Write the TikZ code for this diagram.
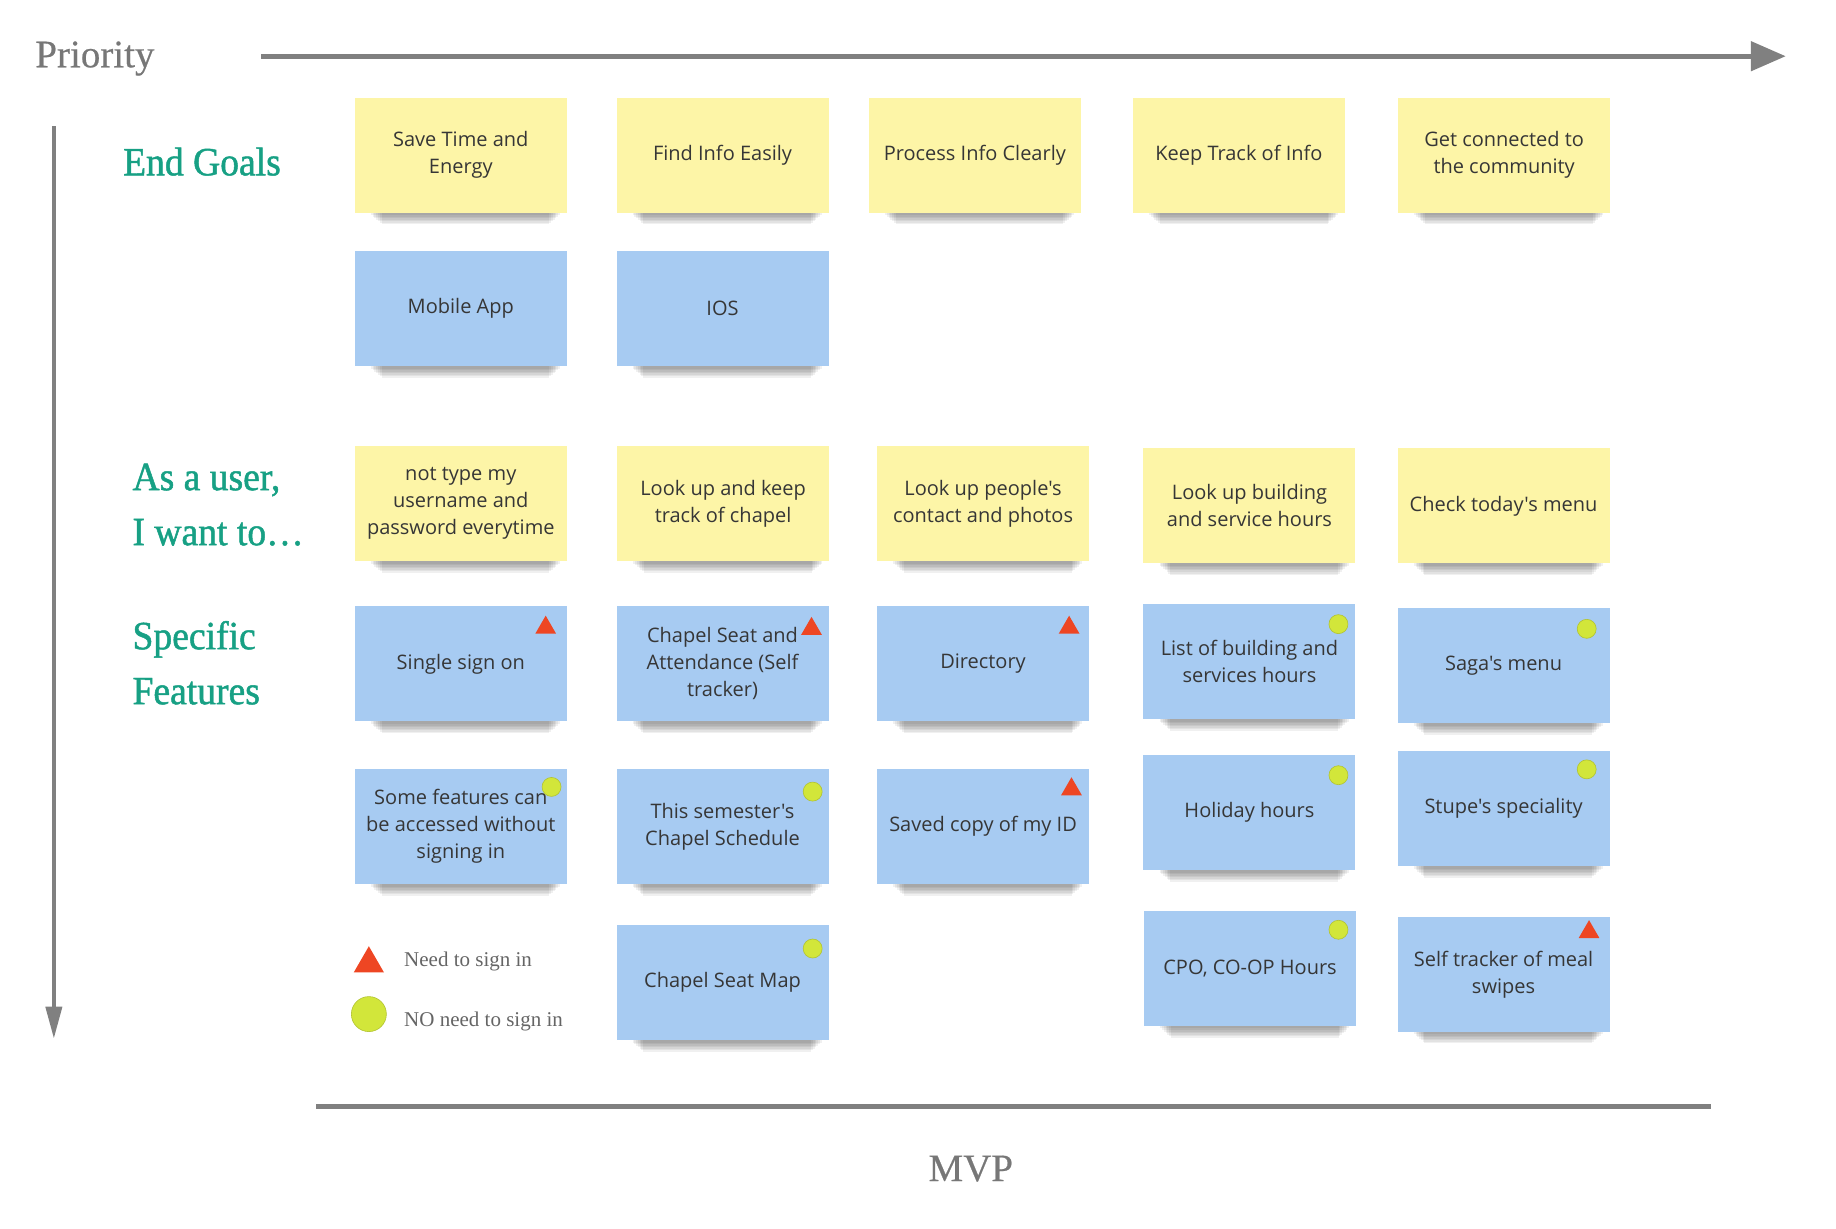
\documentclass[tikz,border=0pt]{standalone}
\usepackage{fontspec}
\newfontfamily\notefont{Open Sans}
\newfontfamily\headfont[FakeBold=0.5]{Liberation Serif}
\newfontfamily\legfont{Liberation Serif}
\newfontfamily\headboldfont[FakeBold=1.2,FakeStretch=0.94]{Liberation Serif}
\usetikzlibrary{arrows.meta,shapes.geometric,calc,backgrounds}
\definecolor{noteyellow}{HTML}{FDF5A7}
\definecolor{noteblue}{HTML}{A7CBF2}
\definecolor{axisgray}{HTML}{808080}
\definecolor{labelgray}{HTML}{777777}
\definecolor{headgreen}{HTML}{17A084}
\definecolor{markred}{HTML}{EE4623}
\definecolor{markgreen}{HTML}{D2E63A}
\definecolor{notetext}{HTML}{363636}
\newcommand\sticky[5]{%
  \node[note,fill=#4] (#1) at (#2,#3) {#5};
  \begin{scope}[on background layer]
    \foreach \i in {0,...,6}{
      \fill[black,opacity=0.06] ($(#1.south west)+(14+1.5*\i,-3)$) rectangle ($(#1.south east)+(-6-1.5*\i,2+1.3*\i)$);
    }
  \end{scope}
}
\begin{document}
\begin{tikzpicture}[x=1.171pt,y=-1.171pt,
  note/.style={rectangle, minimum width=212pt, minimum height=115pt, inner sep=4pt, align=center,
    font=\notefont\fontsize{20}{27}\selectfont, text=notetext},
  axisline/.style={draw=axisgray, line width=5pt},
  axislabel/.style={font=\headfont\fontsize{39}{45}\selectfont, text=labelgray, inner sep=0pt},
  heading/.style={font=\headboldfont\fontsize{40}{55}\selectfont, text=headgreen, inner sep=0pt, align=left},
  legendtext/.style={font=\legfont\fontsize{21}{25}\selectfont, text=labelgray!85!black, inner sep=0pt},
  tri/.style={regular polygon, regular polygon sides=3, fill=markred, minimum size=24pt, inner sep=0pt},
  dot/.style={circle, fill=markgreen, draw=markgreen!85!black, line width=0.6pt, minimum size=19pt, inner sep=0pt}]
\useasboundingbox (0,0) rectangle (1567.9,1049.5);

% axes
\coordinate (topA) at (223,48);
\coordinate (topB) at (1525,48);
\coordinate (leftA) at (46,108);
\coordinate (leftB) at (46,887);
\coordinate (botA) at (270,945);
\coordinate (botB) at (1461,945);
\draw[axisline, -{Triangle[length=35pt,width=29pt]}] (topA) -- (topB);
\draw[axisline, line width=4pt, -{Triangle[length=32pt,width=16pt]}] (leftA) -- (leftB);
\draw[axisline, line width=5.5pt] (botA) -- (botB);
\node[axislabel, anchor=west] (prio) at (30,50) {Priority};
\node[axislabel] (mvp) at (829,998) {MVP};

% headings
\node[heading, anchor=west] (endgoals) at (105,138) {End Goals};
\node[heading, anchor=west] (asuser) at (113,431) {As a user,\\I want to…};
\node[heading, anchor=west] (specific) at (113,566) {Specific\\Features};

% row 1
\sticky{g1}{393.5}{132.5}{noteyellow}{Save Time and\\Energy}
\sticky{g2}{617}{132.5}{noteyellow}{Find Info Easily}
\sticky{g3}{832.5}{132.5}{noteyellow}{Process Info Clearly}
\sticky{g4}{1058}{132.5}{noteyellow}{Keep Track of Info}
\sticky{g5}{1284.5}{132.5}{noteyellow}{Get connected to\\the community}
% row 2
\sticky{p1}{393.5}{263.5}{noteblue}{Mobile App}
\sticky{p2}{617}{263.5}{noteblue}{IOS}
% row 3
\sticky{u1}{393.5}{430}{noteyellow}{not type my\\username and\\password everytime}
\sticky{u2}{617.5}{430}{noteyellow}{Look up and keep\\track of chapel}
\sticky{u3}{839.5}{430}{noteyellow}{Look up people's\\contact and photos}
\sticky{u4}{1067}{432}{noteyellow}{Look up building\\and service hours}
\sticky{u5}{1284}{432}{noteyellow}{Check today's menu}
% row 4
\sticky{f1}{393.5}{567}{noteblue}{Single sign on}
\sticky{f2}{617}{567}{noteblue}{Chapel Seat and\\Attendance (Self\\tracker)}
\sticky{f3}{839.5}{567}{noteblue}{Directory}
\sticky{f4}{1067}{565}{noteblue}{List of building and\\services hours}
\sticky{f5}{1284}{568.5}{noteblue}{Saga's menu}
% row 5
\sticky{h1}{393.5}{706}{noteblue}{Some features can\\be accessed without\\signing in}
\sticky{h2}{617}{706}{noteblue}{This semester's\\Chapel Schedule}
\sticky{h3}{839.5}{706}{noteblue}{Saved copy of my ID}
\sticky{h4}{1067}{694}{noteblue}{Holiday hours}
\sticky{h5}{1284}{690.5}{noteblue}{Stupe's speciality}
% row 6
\sticky{k2}{617}{839}{noteblue}{Chapel Seat Map}
\sticky{k4}{1067.5}{827}{noteblue}{CPO, CO-OP Hours}
\sticky{k5}{1284}{832}{noteblue}{Self tracker of meal\\swipes}

% markers
\node[tri] (mf1) at (466,536) {};
\node[tri] (mf2) at (693,537) {};
\node[tri] (mf3) at (913,536) {};
\node[dot] (mf4) at (1143,533) {};
\node[dot] (mf5) at (1355,537) {};
\node[dot] (mh1) at (471,672) {};
\node[dot] (mh2) at (694,676) {};
\node[tri] (mh3) at (915,674) {};
\node[dot] (mh4) at (1143,662) {};
\node[dot] (mh5) at (1355,657) {};
\node[dot] (mk2) at (694,810) {};
\node[dot] (mk4) at (1143,794) {};
\node[tri] (mk5) at (1357,796) {};

% legend
\node[tri, minimum size=35pt] (legtri) at (315,823) {};
\node[dot, minimum size=35pt] (legdot) at (315,866) {};
\node[legendtext, anchor=west] (legneed) at (345,821) {Need to sign in};
\node[legendtext, anchor=west] (legno) at (345,872) {NO need to sign in};
\end{tikzpicture}
\end{document}
